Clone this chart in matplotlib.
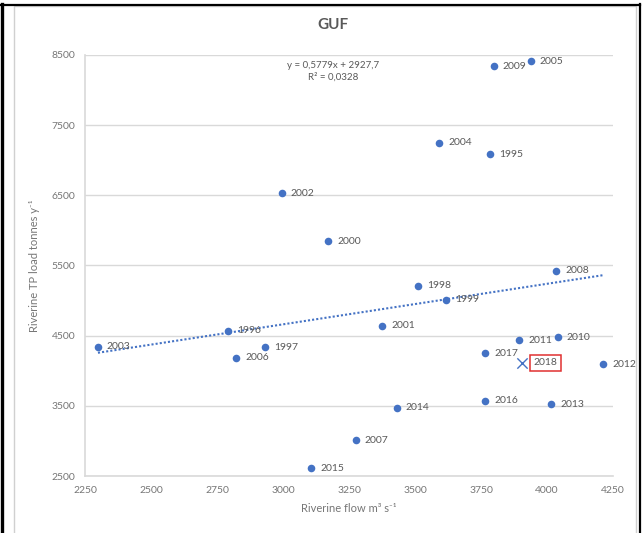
import numpy as np
import matplotlib
matplotlib.use("Agg")
import matplotlib.pyplot as plt
from matplotlib.lines import Line2D
from matplotlib.patches import Rectangle

plt.rcParams['font.family'] = ['Lato', 'DejaVu Sans']

# yearly riverine flow (m3/s) and TP load (t/y)
years = ['1995', '1996', '1997', '1998', '1999', '2000', '2001', '2002',
         '2003', '2004', '2005', '2006', '2007', '2008', '2009', '2010',
         '2011', '2012', '2013', '2014', '2015', '2016', '2017']
flow = [3784, 2793, 2933, 3511, 3617, 3172, 3376, 2995,
        2299, 3591, 3939, 2822, 3275, 4034, 3799, 4040,
        3895, 4213, 4015, 3431, 3106, 3767, 3765]
load = [7089, 4571, 4334, 5208, 5009, 5849, 4642, 6529,
        4339, 7246, 8414, 4182, 3013, 5422, 8343, 4477,
        4432, 4096, 3526, 3474, 2610, 3571, 4249]

# latest year shown separately
new_year = '2018'
new_flow = 3904
new_load = 4115

# linear trend (Excel)
slope = 0.5779
intercept = 2927.7
r2 = 0.0328

x_ticks = [2250, 2500, 2750, 3000, 3250, 3500, 3750, 4000, 4250]
y_ticks = [2500, 3500, 4500, 5500, 6500, 7500, 8500]

blue = '#4472C4'
grey_txt = '#595959'
tick_txt = '#767676'
grid_col = '#D9D9D9'

fig = plt.figure(figsize=(6.44, 5.33), dpi=100)
ax = fig.add_axes([85 / 644, 1 - 476 / 533, 528 / 644, 421 / 533])

ax.scatter(flow, load, s=30, color=blue, zorder=3, linewidths=0)
ax.scatter([new_flow], [new_load], s=55, marker='x', color=blue,
           linewidths=1.0, zorder=3)

xt = np.array([min(flow), max(flow)])
ax.plot(xt, slope * xt + intercept, color=blue, linestyle=(0, (1, 1)),
        linewidth=1.5, zorder=2)

for yr, fx, ly in zip(years, flow, load):
    ax.annotate(yr, (fx, ly), xytext=(6.5, 0), textcoords='offset points',
                ha='left', va='center', fontsize=7.5, color=grey_txt)
ax.annotate(new_year, (new_flow, new_load), xytext=(8.5, 0),
            textcoords='offset points', ha='left', va='center',
            fontsize=7.5, color=grey_txt,
            bbox=dict(boxstyle='square,pad=0.35', fc='none',
                      ec='#E03030', lw=1.1))

eq = 'y = {:.4f}x + {:.1f}'.format(slope, intercept).replace('.', ',')
r2_txt = 'R² = {:.4f}'.format(r2).replace('.', ',')
ax.text(0.47, 0.985, eq + '\n' + r2_txt, transform=ax.transAxes,
        ha='center', va='top', fontsize=7, color=grey_txt,
        linespacing=1.35)

ax.set_xlim(2250, 4250)
ax.set_ylim(2500, 8500)
ax.set_xticks(x_ticks)
ax.set_yticks(y_ticks)
ax.tick_params(length=0, labelsize=7.5, labelcolor=tick_txt, pad=7)
ax.yaxis.grid(True, color=grid_col, linewidth=1)
ax.set_axisbelow(True)
for side in ['top', 'right']:
    ax.spines[side].set_visible(False)
for side in ['left', 'bottom']:
    ax.spines[side].set_color(grid_col)
    ax.spines[side].set_linewidth(1.2)

ax.set_xlabel('Riverine flow m³ s⁻¹', fontsize=8, color=tick_txt, labelpad=6)
ax.set_ylabel('Riverine TP load tonnes y⁻¹', fontsize=8, color=tick_txt,
              labelpad=8)
fig.text(0.517, 1 - 25 / 533, 'GUF', ha='center', va='center',
         fontsize=11, fontweight='bold', color=grey_txt)

# chart area border and outer frame
W, H = 644, 533
fig.add_artist(Rectangle((14 / W, -0.01), 622 / W, 1.01 - 6 / H,
                         transform=fig.transFigure, fill=False,
                         ec='#D0D0D0', lw=1))
fig.add_artist(Line2D([1.5 / W, 1.5 / W], [0, 1 - 4 / H], color='black',
                      lw=2.4, transform=fig.transFigure))
fig.add_artist(Line2D([0, 640 / W], [1 - 4.5 / H, 1 - 4.5 / H],
                      color='black', lw=1.6, transform=fig.transFigure))
fig.add_artist(Line2D([639.5 / W, 639.5 / W], [0, 1 - 4 / H],
                      color='black', lw=1.6, transform=fig.transFigure))

fig.savefig('out.png', dpi=100, facecolor='white')
